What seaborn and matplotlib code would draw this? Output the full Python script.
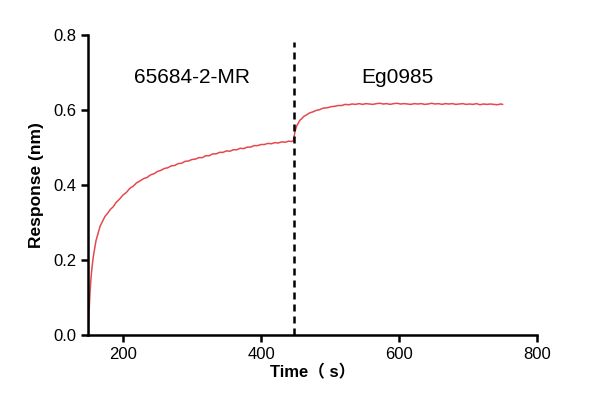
import matplotlib
matplotlib.use("Agg")
import matplotlib.pyplot as plt
import seaborn as sns
import pandas as pd

# ---- data ----
assoc_time = [150, 151, 152, 153, 154, 155, 157, 159, 161, 164, 167, 170,
              174, 178, 182, 186, 190,
              195, 200, 205, 210, 215, 220, 225, 230, 235, 240,
              245, 250, 255, 260, 265, 270, 275, 280, 285, 290,
              295, 300, 305, 310, 315, 320, 325, 330, 335, 340,
              345, 350, 355, 360, 365, 370, 375, 380, 385, 390,
              395, 400, 405, 410, 415, 420, 425, 430, 435, 440,
              444, 447]
assoc_resp = [0.000, 0.060, 0.100, 0.130, 0.155, 0.175, 0.207, 0.229, 0.251, 0.271, 0.290, 0.301,
              0.316, 0.325, 0.335, 0.342, 0.353,
              0.362, 0.373, 0.380, 0.391, 0.397, 0.406, 0.411, 0.417, 0.420, 0.427,
              0.430, 0.436, 0.439, 0.444, 0.446, 0.451, 0.452, 0.457, 0.458, 0.463,
              0.464, 0.468, 0.469, 0.473, 0.473, 0.478, 0.478, 0.483, 0.483, 0.487,
              0.487, 0.491, 0.490, 0.494, 0.494, 0.498, 0.497, 0.501, 0.501, 0.505,
              0.505, 0.508, 0.508, 0.511, 0.510, 0.513, 0.512, 0.515, 0.514, 0.517,
              0.516, 0.518]

second_time = [448, 449, 450, 452, 454, 456, 459, 462, 466, 470, 475, 480,
               485, 490, 496, 502, 507, 512, 517,
               522, 527, 532, 537, 542, 547, 552, 557, 562, 567,
               572, 577, 582, 587, 592, 597, 602, 607, 612, 617,
               622, 627, 632, 637, 642, 647, 652, 657, 662, 667,
               672, 677, 682, 687, 692, 697, 702, 707, 712, 717,
               722, 727, 732, 737, 742, 747, 750]
second_resp = [0.530, 0.541, 0.548, 0.559, 0.565, 0.572, 0.577, 0.583, 0.587, 0.592, 0.595, 0.599,
               0.601, 0.605, 0.606, 0.609, 0.610, 0.612, 0.612,
               0.615, 0.614, 0.616, 0.615, 0.617, 0.615, 0.617, 0.616, 0.615, 0.617,
               0.618, 0.616, 0.617, 0.615, 0.617, 0.618, 0.616, 0.617, 0.616, 0.615,
               0.617, 0.616, 0.617, 0.615, 0.616, 0.618, 0.616, 0.617, 0.615, 0.617,
               0.616, 0.617, 0.615, 0.616, 0.617, 0.615, 0.616, 0.615, 0.617, 0.614,
               0.616, 0.615, 0.616, 0.615, 0.614, 0.616, 0.615]

switch_time = 447.5
phase_labels = ["65684-2-MR", "Eg0985"]
phase_label_x = [300, 598]
phase_label_y = 0.688

df = pd.DataFrame({
    "time": assoc_time + second_time,
    "response": assoc_resp + second_resp,
})

# ---- plot ----
sns.set_style("ticks")
plt.rcParams["font.family"] = ["Liberation Sans", "Noto Sans CJK SC", "DejaVu Sans"]
plt.rcParams["text.color"] = "black"
plt.rcParams["axes.labelcolor"] = "black"
plt.rcParams["xtick.color"] = "black"
plt.rcParams["ytick.color"] = "black"
plt.rcParams["axes.edgecolor"] = "black"

fig = plt.figure(figsize=(5.93, 4.12), dpi=100)
ax = fig.add_axes([0.149, 0.187, 0.757, 0.728])

sns.lineplot(data=df, x="time", y="response", ax=ax, color="#E5484D",
             linewidth=1.1, sort=False, estimator=None)

ax.plot([switch_time, switch_time], [0, 0.782], color="black", lw=1.8,
        linestyle=(0, (2.8, 2.0)), clip_on=False)

for lab, lx in zip(phase_labels, phase_label_x):
    ax.text(lx, phase_label_y, lab, ha="center", va="center", fontsize=15)

ax.set_xlim(150, 800)
ax.set_ylim(0, 0.8)
ax.set_xticks([200, 400, 600, 800])
ax.set_yticks([0.0, 0.2, 0.4, 0.6, 0.8])
ax.set_yticklabels(["0.0", "0.2", "0.4", "0.6", "0.8"])

for side in ["left", "bottom"]:
    ax.spines[side].set_linewidth(1.8)
sns.despine(ax=ax)
ax.tick_params(axis="both", width=1.8, length=5, labelsize=12, color="black")

ax.set_xlabel("Time（ s）", fontsize=12, fontweight="bold", labelpad=2)
ax.set_ylabel("Response (nm)", fontsize=12.5, fontweight="bold", labelpad=7)

fig.savefig("out.png", dpi=100)
